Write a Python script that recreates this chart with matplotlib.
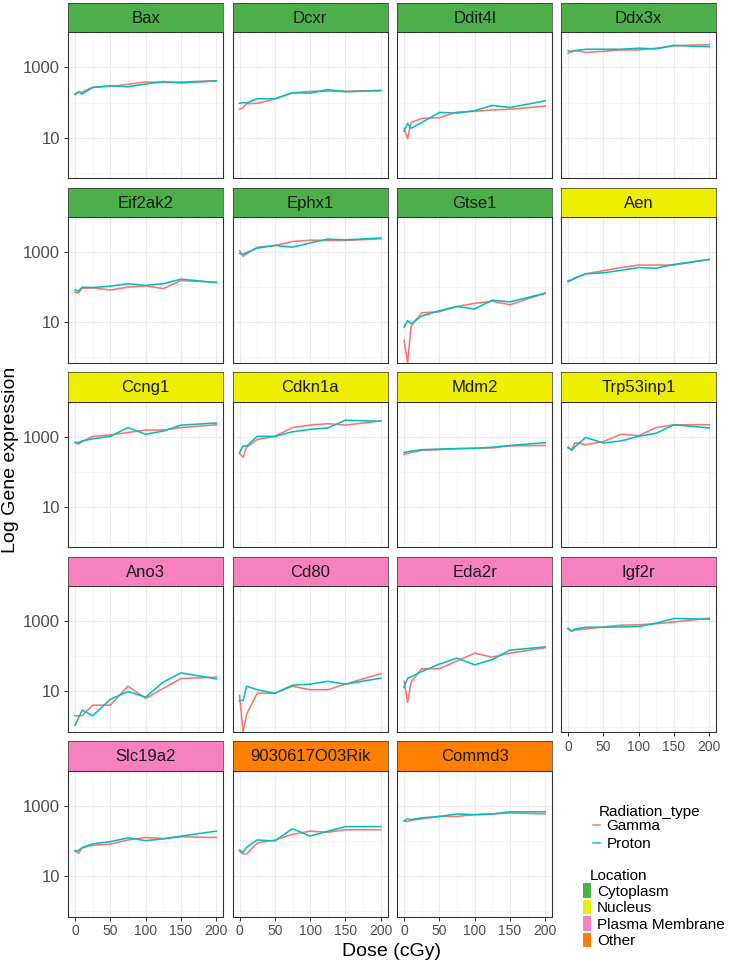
import numpy as np
import matplotlib
matplotlib.use("Agg")
import matplotlib.pyplot as plt
from matplotlib.lines import Line2D
from matplotlib.patches import Patch

plt.rcParams['font.family'] = ['Liberation Sans', 'DejaVu Sans']

# ---------------- data ----------------
doses = [0, 5, 10, 25, 50, 75, 100, 125, 150, 200]

genes = ['Bax', 'Dcxr', 'Ddit4l', 'Ddx3x', 'Eif2ak2', 'Ephx1', 'Gtse1', 'Aen',
         'Ccng1', 'Cdkn1a', 'Mdm2', 'Trp53inp1', 'Ano3', 'Cd80', 'Eda2r', 'Igf2r',
         'Slc19a2', '9030617O03Rik', 'Commd3']
location = (['Cytoplasm'] * 7 + ['Nucleus'] * 5 +
            ['Plasma Membrane'] * 5 + ['Other'] * 2)
location_levels = ['Cytoplasm', 'Nucleus', 'Plasma Membrane', 'Other']
location_colors = ['#4DAF4A', '#EEEE00', '#F781BF', '#FF7F00']
radiation_types = ['Gamma', 'Proton']
radiation_colors = ['#F8766D', '#00BFC4']

NEG = -np.inf  # zero expression (log10 -> -Inf, drawn at panel edge)

# log10 of gene expression, one row per gene (order of `genes`), one column per dose
gamma_log10 = [
    [2.245, 2.30, 2.30, 2.44, 2.46, 2.52, 2.59, 2.57, 2.59, 2.62],   # Bax
    [1.81, 1.85, 1.97, 1.98, 2.10, 2.28, 2.32, 2.33, 2.32, 2.35],    # Dcxr
    [1.27, 0.97, 1.43, 1.55, 1.57, 1.73, 1.75, 1.79, 1.81, 1.90],    # Ddit4l
    [3.40, 3.47, 3.49, 3.43, 3.46, 3.50, 3.50, 3.55, 3.62, 3.65],    # Ddx3x
    [1.86, 1.84, 1.97, 1.98, 1.92, 2.00, 2.04, 1.96, 2.19, 2.14],    # Eif2ak2
    [3.04, 2.88, 2.95, 3.14, 3.19, 3.30, 3.34, 3.33, 3.33, 3.38],    # Ephx1
    [0.48, NEG, 0.89, 1.27, 1.30, 1.45, 1.54, 1.60, 1.50, 1.83],     # Gtse1
    [2.15, 2.20, 2.25, 2.38, 2.47, 2.56, 2.63, 2.63, 2.63, 2.79],    # Aen
    [2.83, 2.79, 2.86, 3.01, 3.05, 3.12, 3.19, 3.19, 3.26, 3.34],    # Ccng1
    [2.53, 2.41, 2.70, 2.92, 3.01, 3.26, 3.33, 3.37, 3.33, 3.45],    # Cdkn1a
    [2.50, 2.52, 2.55, 2.61, 2.63, 2.66, 2.67, 2.68, 2.74, 2.75],    # Mdm2
    [2.68, 2.64, 2.83, 2.77, 2.86, 3.07, 3.03, 3.26, 3.34, 3.34],    # Trp53inp1
    [0.31, 0.31, 0.31, 0.61, 0.61, 1.15, 0.80, 1.09, 1.37, 1.41],    # Ano3
    [0.89, NEG, 0.35, 0.95, 0.95, 1.15, 1.05, 1.05, 1.21, 1.51],     # Cd80
    [1.29, 0.69, 1.27, 1.65, 1.65, 1.87, 2.09, 1.98, 2.09, 2.25],    # Eda2r
    [2.78, 2.73, 2.75, 2.78, 2.84, 2.89, 2.90, 2.93, 2.98, 3.09],    # Igf2r
    [1.73, 1.65, 1.80, 1.88, 1.91, 2.03, 2.10, 2.07, 2.12, 2.10],    # Slc19a2
    [1.71, 1.63, 1.63, 1.94, 2.03, 2.19, 2.28, 2.25, 2.32, 2.32],    # 9030617O03Rik
    [2.57, 2.55, 2.59, 2.63, 2.70, 2.70, 2.75, 2.77, 2.80, 2.77],    # Commd3
]
proton_log10 = [
    [2.23, 2.30, 2.245, 2.43, 2.48, 2.45, 2.53, 2.60, 2.56, 2.62],   # Bax
    [1.98, 2.00, 1.99, 2.11, 2.11, 2.28, 2.27, 2.37, 2.31, 2.34],    # Dcxr
    [1.18, 1.41, 1.27, 1.43, 1.72, 1.70, 1.77, 1.92, 1.86, 2.05],    # Ddit4l
    [3.48, 3.44, 3.48, 3.52, 3.52, 3.52, 3.55, 3.53, 3.63, 3.59],    # Ddx3x
    [1.92, 1.89, 2.00, 1.99, 2.03, 2.10, 2.05, 2.10, 2.23, 2.13],    # Eif2ak2
    [2.96, 2.94, 2.99, 3.11, 3.19, 3.14, 3.26, 3.37, 3.35, 3.40],    # Ephx1
    [0.86, 1.05, 0.96, 1.18, 1.33, 1.45, 1.38, 1.63, 1.58, 1.83],    # Gtse1
    [2.18, 2.21, 2.27, 2.38, 2.41, 2.48, 2.56, 2.54, 2.65, 2.79],    # Aen
    [2.84, 2.83, 2.88, 2.94, 3.01, 3.26, 3.07, 3.16, 3.33, 3.39],    # Ccng1
    [2.55, 2.74, 2.73, 3.01, 3.01, 3.14, 3.21, 3.25, 3.47, 3.44],    # Cdkn1a
    [2.55, 2.57, 2.59, 2.63, 2.65, 2.66, 2.67, 2.70, 2.75, 2.83],    # Mdm2
    [2.70, 2.61, 2.72, 2.98, 2.82, 2.88, 3.01, 3.10, 3.34, 3.25],    # Trp53inp1
    [0.03, 0.25, 0.47, 0.31, 0.78, 1.00, 0.84, 1.27, 1.53, 1.36],    # Ano3
    [0.73, 0.75, 1.15, 1.05, 0.95, 1.18, 1.21, 1.29, 1.21, 1.38],    # Cd80
    [1.12, 1.38, 1.42, 1.57, 1.78, 1.95, 1.76, 1.91, 2.18, 2.27],    # Eda2r
    [2.80, 2.71, 2.78, 2.83, 2.83, 2.84, 2.85, 2.95, 3.08, 3.06],    # Igf2r
    [1.71, 1.73, 1.81, 1.92, 1.98, 2.09, 2.01, 2.06, 2.14, 2.28],    # Slc19a2
    [1.74, 1.68, 1.82, 2.03, 2.00, 2.35, 2.14, 2.28, 2.41, 2.41],    # 9030617O03Rik
    [2.57, 2.63, 2.61, 2.66, 2.70, 2.77, 2.75, 2.77, 2.83, 2.83],    # Commd3
]

x_major = [0, 50, 100, 150, 200]
x_minor = [25, 75, 125, 175]
y_major = [10, 1000]
y_major_labels = ['10', '1000']
y_minor = [1, 100, 10000]

# ---------------- layout ----------------
W, H = 729, 965
fig = plt.figure(figsize=(W / 100, H / 100), dpi=100)
fig.patch.set_facecolor('white')


def rect(l, t, w, h):
    return [l / W, 1 - (t + h) / H, w / W, h / H]


col_left = [68, 232.5, 397, 561]
panel_w = 155.3
row_top = [3 + 184.6 * i for i in range(5)]
strip_h = 29.4
panel_h = 145.7

# shared scales (ggplot-like 5% expansion in transformed space)
all_vals = np.array(gamma_log10 + proton_log10, dtype=float)
finite = all_vals[np.isfinite(all_vals)]
span = finite.max() - finite.min()
ylo_log = finite.min() - 0.05 * span
yhi_log = finite.max() + 0.05 * span
ylim = (10 ** ylo_log, 10 ** yhi_log)
xspan = max(doses) - min(doses)
xlim = (min(doses) - 0.05 * xspan, max(doses) + 0.05 * xspan)

border_col = '#333333'
for i, gene in enumerate(genes):
    r, c = divmod(i, 4)
    ax = fig.add_axes(rect(col_left[c], row_top[r] + strip_h, panel_w, panel_h))
    ax.set_yscale('log')
    ax.set_xlim(*xlim)
    ax.set_ylim(*ylim)
    ax.set_xticks(x_major)
    ax.set_xticks(x_minor, minor=True)
    ax.set_yticks(y_major)
    ax.set_yticks(y_minor, minor=True)
    ax.set_yticklabels(y_major_labels)
    ax.yaxis.set_minor_formatter(matplotlib.ticker.NullFormatter())
    ax.grid(True, which='major', color='#EBEBEB', linewidth=0.8)
    ax.grid(True, which='minor', color='#F2F2F2', linewidth=0.45)
    ax.set_axisbelow(True)
    ax.tick_params(which='minor', length=0)
    ax.tick_params(which='major', length=2.75, width=0.7, color=border_col,
                   labelcolor='#4D4D4D')
    ax.tick_params(axis='x', labelsize=10, pad=3)
    ax.tick_params(axis='y', labelsize=12, pad=3)
    show_x = (r == 4) or (r == 3 and c == 3)
    if not show_x:
        ax.tick_params(axis='x', which='both', labelbottom=False, length=0)
    if c != 0:
        ax.tick_params(axis='y', which='both', labelleft=False, length=0)
    for s in ax.spines.values():
        s.set_color(border_col)
        s.set_linewidth(0.8)

    for vals, col in zip([gamma_log10[i], proton_log10[i]], radiation_colors):
        y = 10 ** np.array(vals, dtype=float)
        # like ggplot: non-finite (zero) values are drawn at the panel edge
        y = np.where(y > 0, y, ylim[0])
        ax.plot(doses, y, color=col, linewidth=1.15, solid_joinstyle='round')

    sax = fig.add_axes(rect(col_left[c], row_top[r], panel_w, strip_h))
    sax.set_facecolor(location_colors[location_levels.index(location[i])])
    sax.set_xticks([])
    sax.set_yticks([])
    for s in sax.spines.values():
        s.set_color(border_col)
        s.set_linewidth(0.5)
    sax.text(0.5, 0.47, gene, ha='center', va='center', fontsize=12,
             color='#1A1A1A', transform=sax.transAxes)

# axis titles
fig.text(392 / W, 1 - 952 / H, 'Dose (cGy)', ha='center', va='center',
         fontsize=14, color='black')
fig.text(11 / W, 1 - 460 / H, 'Log Gene expression', ha='center',
         va='center', rotation=90, fontsize=14, color='black')

# legends
fig.text(599 / W, 1 - 811.7 / H, 'Radiation_type', ha='left', va='center',
         fontsize=11, color='black')
rad_handles = [Line2D([0], [0], color=cc, linewidth=1.1) for cc in radiation_colors]
fig.legend(rad_handles, radiation_types, loc='upper left',
           bbox_to_anchor=(592.7 / W, 1 - 819.5 / H), frameon=False,
           fontsize=11, handlelength=0.5, handletextpad=0.4,
           labelspacing=0.22, borderpad=0, borderaxespad=0)

fig.text(590 / W, 1 - 875.7 / H, 'Location', ha='left', va='center',
         fontsize=11, color='black')
loc_handles = [Patch(facecolor=cc, edgecolor='none') for cc in location_colors]
fig.legend(loc_handles, location_levels, loc='upper left',
           bbox_to_anchor=(582.7 / W, 1 - 883.3 / H), frameon=False,
           fontsize=11, handlelength=0.55, handleheight=1.1,
           handletextpad=0.4, labelspacing=0.06, borderpad=0, borderaxespad=0)

fig.savefig('out.png', dpi=100, facecolor='white')
